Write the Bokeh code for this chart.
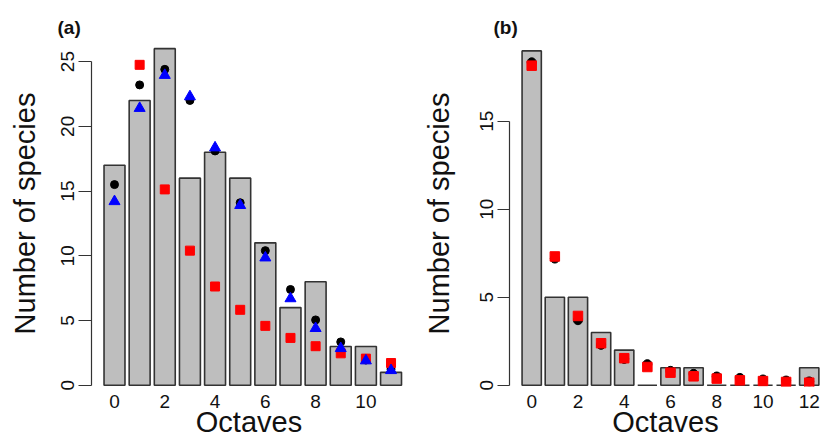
import numpy as np
from bokeh.plotting import figure
from bokeh.models import ColumnDataSource, FixedTicker, Range1d
from bokeh.layouts import row
from bokeh.embed import file_html
from bokeh.resources import INLINE

FONT = "Liberation Sans"

# ---------------- data: panel (a) ----------------
octaves_a = list(range(12))
observed_a = [17, 22, 26, 16, 18, 16, 11, 6, 8, 3, 3, 1]
black_a = [15.5, 23.2, 24.4, 22.0, 18.1, 14.1, 10.4, 7.4, 5.05, 3.35, 1.95, 1.25]
red_a = [np.nan, 24.75, 15.13, 10.4, 7.63, 5.83, 4.59, 3.66, 3.02, 2.47, 2.06, 1.72]
blue_a = [14.2, 21.4, 23.95, 22.3, 18.35, 13.9, 9.85, 6.7, 4.4, 2.85, 1.9, 1.15]
x_ticks_a = [0, 2, 4, 6, 8, 10]
y_ticks_a = [0, 5, 10, 15, 20, 25]

# ---------------- data: panel (b) ----------------
octaves_b = list(range(13))
observed_b = [19, 5, 5, 3, 2, 0, 1, 1, 0, 0, 0, 0, 1]
black_b = [18.35, 7.2, 3.7, 2.3, 1.5, 1.2, 0.82, 0.65, 0.5, 0.42, 0.33, 0.27, 0.22]
red_b = [18.16, 7.32, 3.94, 2.39, 1.54, 1.04, 0.72, 0.51, 0.38, 0.28, 0.24, 0.19, 0.15]
x_ticks_b = [0, 2, 4, 6, 8, 10, 12]
y_ticks_b = [0, 5, 10, 15]

X_LABEL = "Octaves"
Y_LABEL = "Number of species"


def make_panel(title, octaves, observed, series, x_ticks, y_ticks,
               width, x_range, y_range, border_left, border_right,
               title_offset, tick_out, ylab_standoff):
    p = figure(width=width, height=442, output_backend="svg", toolbar_location=None,
               x_range=Range1d(*x_range), y_range=Range1d(*y_range),
               min_border_left=border_left, min_border_right=border_right,
               min_border_top=40, min_border_bottom=56)
    p.outline_line_color = None
    p.xgrid.visible = False
    p.ygrid.visible = False
    p.background_fill_color = "white"
    p.border_fill_color = "white"

    p.title.text = title
    p.title.text_font = FONT
    p.title.text_font_size = "19px"
    p.title.text_font_style = "bold"
    p.title.text_color = "#111111"
    p.title.align = "left"
    p.title.offset = title_offset
    p.title.standoff = 6

    src = ColumnDataSource(dict(x=octaves, top=observed))
    p.vbar(x="x", top="top", bottom=0, width=0.833, source=src,
           fill_color="#BEBEBE", line_color="#333333", line_width=1.6)

    for vals, marker, color, size in series:
        s = ColumnDataSource(dict(x=octaves, y=np.array(vals, dtype=float)))
        p.scatter(x="x", y="y", source=s, marker=marker, size=size,
                  fill_color=color, line_color=color)

    # y axis
    ya = p.yaxis[0]
    ya.ticker = FixedTicker(ticks=y_ticks)
    ya.bounds = (y_ticks[0], y_ticks[-1])
    ya.axis_line_color = "#333333"
    ya.axis_line_width = 1.2
    ya.major_tick_line_color = "#333333"
    ya.major_tick_line_width = 1.2
    ya.major_tick_out = tick_out
    ya.major_tick_in = 0
    ya.minor_tick_line_color = None
    ya.major_label_orientation = "vertical"
    ya.major_label_standoff = 4
    ya.major_label_text_font = FONT
    ya.major_label_text_font_size = "19px"
    ya.major_label_text_color = "#111111"
    ya.axis_label = Y_LABEL
    ya.axis_label_text_font = FONT
    ya.axis_label_text_font_size = "29px"
    ya.axis_label_text_font_style = "normal"
    ya.axis_label_text_color = "#111111"
    ya.axis_label_standoff = ylab_standoff

    # x axis
    xa = p.xaxis[0]
    xa.ticker = FixedTicker(ticks=x_ticks)
    xa.axis_line_color = None
    xa.major_tick_line_color = None
    xa.minor_tick_line_color = None
    xa.major_tick_out = 0
    xa.major_tick_in = 0
    xa.major_label_standoff = 8
    xa.major_label_text_font = FONT
    xa.major_label_text_font_size = "19px"
    xa.major_label_text_color = "#111111"
    xa.axis_label = X_LABEL
    xa.axis_label_text_font = FONT
    xa.axis_label_text_font_size = "29px"
    xa.axis_label_text_font_style = "normal"
    xa.axis_label_text_color = "#111111"
    xa.axis_label_standoff = -5
    return p


pa = make_panel("(a)", octaves_a, observed_a,
                [(black_a, "circle", "black", 8),
                 (red_a, "square", "#FF0000", 9),
                 (blue_a, "triangle", "#0000FF", 11)],
                x_ticks_a, y_ticks_a,
                width=410, x_range=(-0.915, 11.615), y_range=(-0.093, 26.63),
                border_left=91, border_right=4,
                title_offset=-34, tick_out=13, ylab_standoff=18)

pb = make_panel("(b)", octaves_b, observed_b,
                [(black_b, "circle", "black", 9),
                 (red_b, "square", "#FF0000", 9.5)],
                x_ticks_b, y_ticks_b,
                width=411, x_range=(-0.96, 12.53), y_range=(-0.068, 19.59),
                border_left=99, border_right=0,
                title_offset=-16, tick_out=12, ylab_standoff=23)

layout = row(pa, pb)
open("out.html", "w").write(file_html(layout, INLINE))
